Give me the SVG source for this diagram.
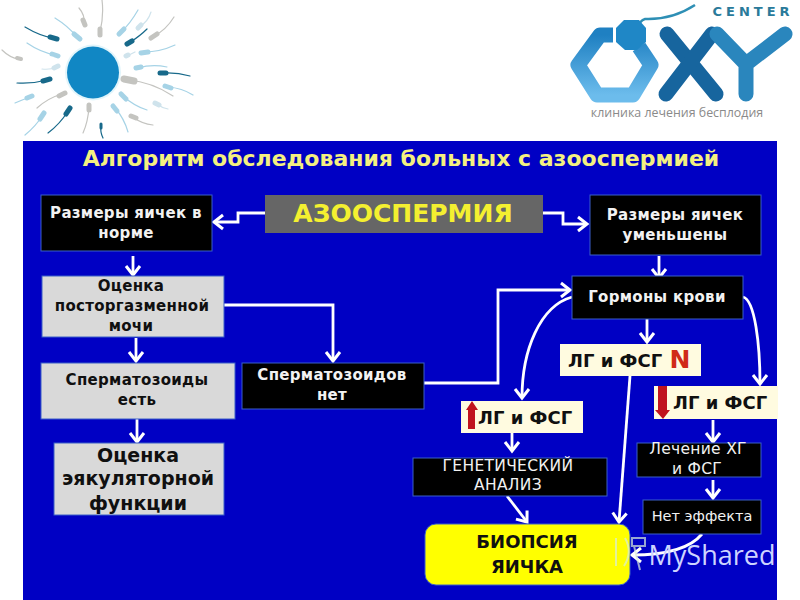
<svg xmlns="http://www.w3.org/2000/svg" width="800" height="600" viewBox="0 0 800 600">
<style>
text{font-family:"DejaVu Sans","Liberation Sans",sans-serif;font-weight:700;text-anchor:middle}
.w{fill:#f2f2f2;font-size:15px;letter-spacing:.3px}
.b{fill:#101010;font-size:15px;letter-spacing:.3px}
.r{font-weight:400;font-size:15.500px}
.box{stroke:#3a5fc8;stroke-width:1}
.k{fill:#000}
.g{fill:#d9d9d9}
.c{fill:#fffbe0;stroke:none}
.l{text-anchor:start;font-size:18px;letter-spacing:0}
.cn{fill:none;stroke:#fff;stroke-width:2.800;marker-end:url(#a)}
.t{fill:none;stroke-width:1.200;stroke-linecap:round}
.h{stroke-width:5;stroke-linecap:round}
.dk{stroke:#17698a}
.lb{stroke:#a6d3e6}
.gr{stroke:#c4c4c0}
.pl{stroke:#cfe3ec}
</style>
<defs>
<marker id="a" markerUnits="userSpaceOnUse" markerWidth="16" markerHeight="18" refX="12" refY="9" orient="auto">
<path d="M3 2 L12 9 L3 16" fill="none" stroke="#fff" stroke-width="3"/>
</marker>
<linearGradient id="hex" x1="0" y1="0" x2="0" y2="1"><stop offset="0" stop-color="#1f80c2"/><stop offset="1" stop-color="#6cbcec"/></linearGradient>
</defs>
<rect width="800" height="600" fill="#fff"/>
<g id="sperm-art">
<circle cx="93" cy="72.500" r="28" fill="#e2f5fb"/>
<circle cx="93" cy="72.500" r="26" fill="#1187c4"/>
<g class="t">
<path class="dk" d="M53 38Q40 36 25 27"/><path class="lb" d="M77 37Q68 26 55 18"/><path class="gr" d="M84 23Q85 15 79 8"/><path class="gr" d="M100 32Q104 15 102 0"/><path class="lb" d="M121 32Q130 24 138 10"/><path class="pl" d="M139 27Q148 22 151 12"/><path class="dk" d="M129 43Q140 36 147 29"/><path class="gr" d="M154 36Q166 30 174 17"/><path class="lb" d="M144 52Q160 52 175 45"/><path class="pl" d="M127 56L135 52"/><path class="lb" d="M138 68Q152 64 167 67"/><path class="dk" d="M162 73Q176 72 190 76"/><path class="gr" d="M128 80Q152 82 173 96"/><path class="lb" d="M168 87Q182 88 193 95"/><path class="lb" d="M123 96Q134 106 147 110"/><path class="pl" d="M157 104Q162 108 168 109"/><path class="lb" d="M115 108Q124 118 128 132"/><path class="gr" d="M133 117Q142 124 153 125"/><path class="dk" d="M101 126Q100 132 103 138"/><path class="gr" d="M89 107Q88 122 83 133"/><path class="dk" d="M68 111Q60 124 48 133"/><path class="lb" d="M42 116Q36 126 25 135"/><path class="gr" d="M62 94Q48 98 37 108"/><path class="lb" d="M30 97Q22 100 15 103"/><path class="dk" d="M47 80Q32 84 17 83"/><path class="pl" d="M57 67Q50 70 42 69"/><path class="gr" d="M19 59Q10 58 2 50"/><path class="lb" d="M55 55Q40 52 27 43"/>
</g>
<g class="h">
<path class="dk" d="M50 37L57 39"/><path class="lb" d="M74 34L80 39"/><path class="gr" d="M83 20L85 25"/><path class="gr" d="M100 29L100 35"/><path class="lb" d="M119 34L124 29"/><path class="pl" d="M138 28L141 25"/><path class="dk" d="M127 44L132 41"/><path class="gr" d="M151 38L157 34"/><path class="lb" d="M141 53L148 52"/><path class="pl" d="M126 56L128 55"/><path class="lb" d="M136 68L141 67"/><path class="dk" d="M160 73L166 73"/><path class="gr" style="stroke-width:7" d="M124 79L134 81"/><path class="lb" d="M165 86L171 88"/><path class="lb" d="M121 94L126 99"/><path class="pl" d="M155 103L159 105"/><path class="lb" d="M113 106L117 111"/><path class="gr" d="M131 116L136 118"/><path class="dk" style="stroke-width:3" d="M101 124L101 128"/><path class="gr" d="M89 105L89 110"/><path class="dk" d="M70 108L66 114"/><path class="lb" d="M44 113L40 119"/><path class="gr" d="M65 93L59 96"/><path class="lb" d="M32 96L27 98"/><path class="dk" d="M50 79L43 81"/><path class="pl" d="M58 66L54 68"/><path class="gr" style="stroke-width:4" d="M21 59L17 58"/><path class="lb" d="M58 56L52 54"/>
</g>
</g>
<g id="logo">
<path d="M695 5Q672 20 645 19Q640 20 636 30" fill="none" stroke="#2e8fb5" stroke-width="2.500"/>
<path d="M613 35H600L578 65L597 95H633L651 65L639 47" fill="none" stroke="url(#hex)" stroke-width="15" stroke-linejoin="round"/>
<polygon points="624,20 639,20 646,28 646,42 637,50 625,50 616,42 616,28" fill="#1f87c6"/>
<g fill="none" stroke-width="15" stroke-linecap="round">
<path d="M667 34L716 94" stroke="#17659e"/>
<path d="M712 34L666 94" stroke="#17659e"/>
<path d="M717 34L746 64V94M785 34L746 64" stroke="#2a86bd" stroke-linejoin="round"/>
</g>
<text x="753" y="16" style="font-size:13px;letter-spacing:4px;fill:#2a7a9a">CENTER</text>
<text x="677" y="117" style="font-size:12.400px;font-weight:400;fill:#8a8a8a;font-family:'Open Sans','DejaVu Sans',sans-serif">клиника лечения бесплодия</text>
</g>
<rect id="panel" x="23" y="141" width="754" height="459" fill="#0000c4"/>
<text x="401" y="166" style="font-size:22px;fill:#f4f080">Алгоритм обследования больных с азооспермией</text>
<g id="connectors">
<path class="cn" d="M265 213H238V222H214"/>
<path class="cn" d="M543 213H563V224H587"/>
<path class="cn" d="M133 256V275"/>
<path class="cn" d="M136 338V361"/>
<path class="cn" d="M137 419V442"/>
<path class="cn" d="M224 305H333V361"/>
<path class="cn" d="M424 383H498V290H570"/>
<path class="cn" d="M659 256V278"/>
<path class="cn" d="M647 319V342"/>
<path class="cn" d="M572 297C540 306 522 350 522 398"/>
<path class="cn" d="M743 297C755 300 760 345 760 384"/>
<path class="cn" d="M630 376L619 522"/>
<path class="cn" d="M512 433V451"/>
<path class="cn" d="M507 496L527 522"/>
<path class="cn" d="M713 420V442"/>
<path class="cn" d="M713 480V498"/>
<path class="cn" d="M702 534Q685 555 632 555"/>
</g>
<g id="n-norm"><rect class="box k" x="41" y="195" width="171" height="56"/><text class="w" x="126" y="218">Размеры яичек в</text><text class="w" x="126" y="238">норме</text></g>
<g id="n-azoo"><rect x="265" y="195" width="278" height="38" fill="#666"/><text x="403" y="222" style="font-size:25px;fill:#f4f030">АЗООСПЕРМИЯ</text></g>
<g id="n-umen"><rect class="box k" x="590" y="195" width="171" height="60"/><text class="w" x="675" y="220">Размеры яичек</text><text class="w" x="675" y="240">уменьшены</text></g>
<g id="n-horm"><rect class="box k" x="572" y="276" width="171" height="43"/><text class="w" x="657" y="302">Гормоны крови</text></g>
<g id="n-post"><rect class="box g" x="42" y="276" width="182" height="61"/><text class="b" x="131" y="291">Оценка</text><text class="b" x="132" y="311">посторгазменной</text><text class="b" x="131" y="331">мочи</text></g>
<g id="n-est"><rect class="box g" x="41" y="363" width="194" height="56"/><text class="b" x="137" y="385">Сперматозоиды</text><text class="b" x="137" y="405">есть</text></g>
<g id="n-net"><rect class="box k" x="242" y="363" width="182" height="46"/><text class="w" x="332" y="380">Сперматозоидов</text><text class="w" x="332" y="400">нет</text></g>
<g id="n-ejac"><rect class="box g" x="54" y="443" width="170" height="72"/><text class="b" style="font-size:19px;letter-spacing:0" x="138" y="462">Оценка</text><text class="b" style="font-size:19px;letter-spacing:0" x="138" y="485">эякуляторной</text><text class="b" style="font-size:19px;letter-spacing:0" x="138" y="510">функции</text></g>
<g id="n-lgn"><rect class="c" x="560" y="344" width="141" height="32"/><text class="b l" x="568" y="367">ЛГ и ФСГ</text><text x="680" y="368" style="font-size:25px;fill:#d02a18">N</text></g>
<g id="n-lgup"><rect class="c" x="461" y="401" width="122" height="32"/><text class="b l" x="478" y="424">ЛГ и ФСГ</text><polygon points="472,401 478,410 475,410 475,429 468,429 468,410 466,410" fill="#c0141e"/></g>
<g id="n-lgdn"><rect class="c" x="654" y="386" width="124" height="33"/><text class="b l" x="673" y="409">ЛГ и ФСГ</text><polygon points="658,386 667,386 667,410 670,410 663,419 655,410 658,410" fill="#c0141e"/></g>
<g id="n-gen"><rect class="box k" x="413" y="458" width="194" height="38"/><text class="w r" x="508" y="471">ГЕНЕТИЧЕСКИЙ</text><text class="w r" x="508" y="490">АНАЛИЗ</text></g>
<g id="n-lech"><rect class="box k" x="637" y="443" width="124" height="34"/><text class="w r" x="698" y="454">Лечение  ХГ</text><text class="w r" x="697" y="474">и ФСГ</text></g>
<g id="n-noef"><rect class="box k" x="643" y="500" width="118" height="34"/><text class="w r" style="font-size:14.500px;letter-spacing:0" x="702" y="521">Нет эффекта</text></g>
<g id="n-biop"><rect x="425" y="524" width="205" height="61" rx="11" fill="#ffff00" stroke="#3a5fc8"/><text class="b" style="font-size:18px;letter-spacing:0" x="527" y="548">БИОПСИЯ</text><text class="b" style="font-size:18px;letter-spacing:0" x="527" y="573">ЯИЧКА</text></g>
<g id="watermark">
<path d="M616 538V566M625 538Q633 552 624 566M632 538H645V546H632ZM634 546L640 570" fill="none" stroke="#d8ecd8" stroke-width="2" opacity=".7"/>
<text x="712" y="565" style="font-size:27px;font-weight:400;fill:#cdd4ff;font-family:'Open Sans','DejaVu Sans',sans-serif">MyShared</text>
</g>
</svg>
